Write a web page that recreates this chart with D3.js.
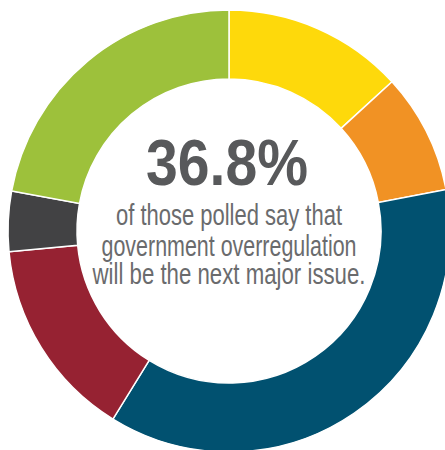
<!DOCTYPE html>
<html>
<head>
<meta charset="utf-8">
<script src="https://cdn.jsdelivr.net/npm/d3@7"></script>
<style>
  body { margin: 0; background: #fff; }
  svg { display: block; }
</style>
</head>
<body>
<svg id="donut" width="445" height="450"></svg>
<script>
//Slices of the poll, clockwise from the top
var categories = ["Yellow", "Orange", "Government overregulation", "Red", "Dark", "Green"];
var shares = [13.2, 8.8, 36.8, 14.7, 4.4, 22.1];
var colours = ["#fed90b", "#f19224", "#015170", "#962232", "#424244", "#9dc13b"];

//Text in the middle
var headline = "36.8%";
var lines = ["of those polled say that", "government overregulation", "will be the next major issue."];

var svg = d3.select("#donut"),
    cx = 229, cy = 231,
    outerR = 221, innerR = 152;

var g = svg.append("g").attr("transform", "translate(" + cx + "," + cy + ")");

var pie = d3.pie().sort(null).value(function(d) { return d; });
var arc = d3.arc().innerRadius(innerR).outerRadius(outerR);

//Donut slices, with thin white gaps between them
g.selectAll("path")
  .data(pie(shares))
  .enter().append("path")
  .attr("d", arc)
  .attr("fill", function(d, i) { return colours[i]; })
  .attr("stroke", "#fff")
  .attr("stroke-width", 1.5);

//Big percentage
g.append("text")
  .attr("x", -2)
  .attr("y", -46)
  .attr("text-anchor", "middle")
  .attr("font-family", "'Liberation Sans Narrow', 'Liberation Sans', Arial, sans-serif")
  .attr("font-weight", "bold")
  .attr("font-size", 64)
  .attr("fill", "#58595b")
  .attr("textLength", 162)
  .attr("lengthAdjust", "spacingAndGlyphs")
  .text(headline);

//Caption lines
var widths = [226, 255, 273];
var baselines = [-6, 25, 53];
g.selectAll(".caption")
  .data(lines)
  .enter().append("text")
  .attr("class", "caption")
  .attr("x", 0)
  .attr("y", function(d, i) { return baselines[i]; })
  .attr("text-anchor", "middle")
  .attr("font-family", "'Liberation Sans Narrow', 'Liberation Sans', Arial, sans-serif")
  .attr("font-size", 29.5)
  .attr("fill", "#6a6b6d")
  .attr("textLength", function(d, i) { return widths[i]; })
  .attr("lengthAdjust", "spacingAndGlyphs")
  .text(function(d) { return d; });
</script>
</body>
</html>
